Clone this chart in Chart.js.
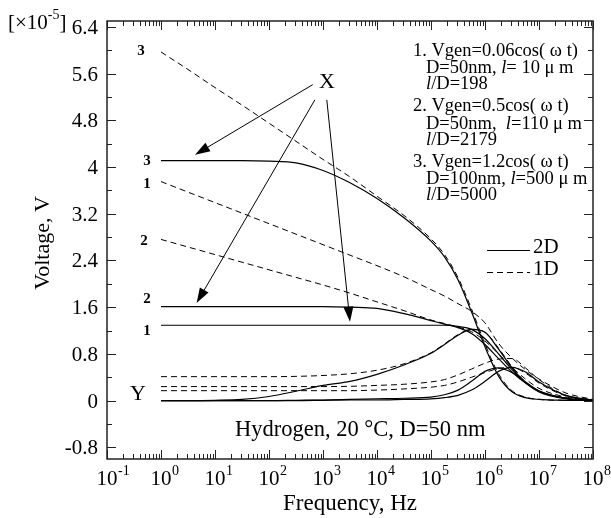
<!DOCTYPE html>
<html>
<head>
<meta charset="utf-8">
<script src="https://cdn.jsdelivr.net/npm/chart.js@4/dist/chart.umd.min.js"></script>
<style>
  html, body { margin: 0; padding: 0; background: #fff; }
  #wrap { width: 611px; height: 518px; position: relative; }
</style>
</head>
<body>
<div id="wrap"><canvas id="c" width="611" height="518"></canvas></div>
<script>
// Frequency grid (Hz) shared by every curve
const freqHz = [1, 3.16, 10, 31.6, 100, 316, 1e3, 3.16e3, 1e4, 3.16e4, 1e5, 1.78e5, 3.16e5, 5.62e5,
                1e6, 1.78e6, 3.16e6, 5.62e6, 1e7, 3.16e7, 1e8];

// 2D model (solid lines), voltage in units of 1e-5 V
const solid3 = [4.11, 4.11, 4.11, 4.11, 4.10, 4.07, 3.94, 3.73, 3.46, 3.13, 2.73, 2.46, 2.07, 1.52, 0.92, 0.42, 0.15, 0.05, 0.02, 0.005, 0];
const solid2 = [1.61, 1.61, 1.61, 1.61, 1.61, 1.61, 1.61, 1.60, 1.58, 1.49, 1.37, 1.31, 1.25, 1.15, 0.96, 0.72, 0.49, 0.30, 0.16, 0.04, 0.005];
const solid1 = [1.29, 1.29, 1.29, 1.29, 1.29, 1.29, 1.29, 1.29, 1.29, 1.29, 1.29, 1.29, 1.27, 1.22, 1.06, 0.80, 0.53, 0.31, 0.16, 0.04, 0.005];
const solidYa = [0, 0, 0.005, 0.02, 0.07, 0.16, 0.26, 0.33, 0.45, 0.61, 0.81, 0.96, 1.12, 1.22, 1.17, 0.88, 0.56, 0.31, 0.15, 0.03, 0];
const solidYb = [0, 0, 0, 0, 0, 0.005, 0.01, 0.02, 0.03, 0.04, 0.06, 0.10, 0.18, 0.33, 0.50, 0.56, 0.48, 0.32, 0.17, 0.04, 0];
const solidYc = [0, 0, 0, 0, 0, 0, 0.005, 0.01, 0.01, 0.02, 0.03, 0.05, 0.09, 0.18, 0.33, 0.50, 0.57, 0.49, 0.32, 0.09, 0.01];

// 1D model (dashed lines)
const dashed3 = [5.97, 5.67, 5.36, 5.06, 4.75, 4.44, 4.13, 3.83, 3.50, 3.17, 2.77, 2.50, 2.11, 1.57, 0.97, 0.46, 0.17, 0.06, 0.02, 0.005, 0];
const dashed1 = [3.75, 3.57, 3.39, 3.21, 3.03, 2.85, 2.67, 2.49, 2.31, 2.12, 1.90, 1.79, 1.66, 1.53, 1.33, 0.98, 0.73, 0.53, 0.37, 0.13, 0.02];
const dashed2 = [2.76, 2.63, 2.50, 2.37, 2.24, 2.11, 1.98, 1.84, 1.69, 1.54, 1.38, 1.32, 1.26, 1.18, 1.02, 0.80, 0.57, 0.37, 0.21, 0.06, 0.01];
const dashedYa = [0.41, 0.41, 0.41, 0.41, 0.41, 0.415, 0.43, 0.46, 0.52, 0.63, 0.82, 0.97, 1.13, 1.22, 1.17, 0.90, 0.58, 0.32, 0.16, 0.04, 0];
const dashedYb = [0.24, 0.24, 0.24, 0.24, 0.24, 0.24, 0.24, 0.245, 0.26, 0.28, 0.32, 0.36, 0.44, 0.54, 0.64, 0.71, 0.72, 0.56, 0.36, 0.09, 0.01];
const dashedYc = [0.17, 0.17, 0.17, 0.17, 0.17, 0.17, 0.17, 0.17, 0.18, 0.20, 0.23, 0.26, 0.32, 0.40, 0.48, 0.55, 0.57, 0.47, 0.30, 0.08, 0.01];

// Axis ticks
const xTickExponents = [-1, 0, 1, 2, 3, 4, 5, 6, 7, 8];
const yMajorTicks = [-0.8, 0, 0.8, 1.6, 2.4, 3.2, 4, 4.8, 5.6, 6.4];
const yMinorTicks = [-0.4, 0.4, 1.2, 2.0, 2.8, 3.6, 4.4, 5.2, 6.0];
const yTickLabels = ['-0.8', '0', '0.8', '1.6', '2.4', '3.2', '4', '4.8', '5.6', '6.4'];

// Arrows from the "X" marker: [from Hz, from V, to Hz, to V]
const arrowsX = [
  [646, 5.41, 4.27, 4.21],
  [708, 5.15, 4.57, 1.67],
  [1175, 5.15, 3162, 1.35]
];

// Case numbers written next to the curves at 1 Hz
const caseLabels = [
  { text: '3', v: 6.00, dx: -20 },
  { text: '3', v: 4.12, dx: -14 },
  { text: '1', v: 3.72, dx: -14 },
  { text: '2', v: 2.75, dx: -17 },
  { text: '2', v: 1.75, dx: -14 },
  { text: '1', v: 1.21, dx: -14 }
];

const SERIF = '"Liberation Serif", "DejaVu Serif", serif';

function series(vals) {
  return freqHz.map((f, i) => ({ x: f, y: vals[i] }));
}
function solidSet(vals) {
  return { data: series(vals), borderColor: '#000', borderWidth: 1.2, borderDash: [],
           pointRadius: 0, fill: false, cubicInterpolationMode: 'monotone' };
}
function dashedSet(vals) {
  return { data: series(vals), borderColor: '#000', borderWidth: 1, borderDash: [6, 4],
           pointRadius: 0, fill: false, cubicInterpolationMode: 'monotone' };
}

function drawArrow(ctx, x1, y1, x2, y2) {
  const ang = Math.atan2(y2 - y1, x2 - x1);
  const len = 15, half = 5;
  const bx = x2 - len * Math.cos(ang), by = y2 - len * Math.sin(ang);
  ctx.beginPath();
  ctx.moveTo(x1, y1);
  ctx.lineTo(bx, by);
  ctx.stroke();
  ctx.beginPath();
  ctx.moveTo(x2, y2);
  ctx.lineTo(bx + half * Math.sin(ang), by - half * Math.cos(ang));
  ctx.lineTo(bx - half * Math.sin(ang), by + half * Math.cos(ang));
  ctx.closePath();
  ctx.fill();
}

function drawRuns(ctx, x, y, runs) {
  let cx = x;
  runs.forEach(r => {
    ctx.font = (r.i ? 'italic ' : '') + '18.5px ' + SERIF;
    ctx.fillText(r.t, cx, y);
    cx += ctx.measureText(r.t).width;
  });
}

const framePlugin = {
  id: 'frame',
  afterDraw(chart) {
    const ctx = chart.ctx;
    const xs = chart.scales.x, ys = chart.scales.y;
    const a = chart.chartArea;
    ctx.save();
    ctx.strokeStyle = '#222';
    ctx.fillStyle = '#000';

    // plot frame
    ctx.lineWidth = 1.5;
    ctx.strokeRect(a.left, a.top, a.right - a.left, a.bottom - a.top);

    // x ticks (inward, top and bottom)
    ctx.lineWidth = 1;
    ctx.beginPath();
    xTickExponents.forEach(e => {
      const base = Math.pow(10, e);
      const px = Math.round(xs.getPixelForValue(base)) + 0.5;
      ctx.moveTo(px, a.bottom); ctx.lineTo(px, a.bottom - 9);
      ctx.moveTo(px, a.top); ctx.lineTo(px, a.top + 9);
      if (e < 8) {
        for (let m = 2; m <= 9; m++) {
          const mx = Math.round(xs.getPixelForValue(base * m)) + 0.5;
          ctx.moveTo(mx, a.bottom); ctx.lineTo(mx, a.bottom - 5);
          ctx.moveTo(mx, a.top); ctx.lineTo(mx, a.top + 5);
        }
      }
    });
    // y ticks (inward, left and right)
    yMajorTicks.forEach(v => {
      const py = Math.round(ys.getPixelForValue(v)) + 0.5;
      ctx.moveTo(a.left, py); ctx.lineTo(a.left + 9, py);
      ctx.moveTo(a.right, py); ctx.lineTo(a.right - 9, py);
    });
    yMinorTicks.forEach(v => {
      const py = Math.round(ys.getPixelForValue(v)) + 0.5;
      ctx.moveTo(a.left, py); ctx.lineTo(a.left + 5, py);
      ctx.moveTo(a.right, py); ctx.lineTo(a.right - 5, py);
    });
    ctx.stroke();

    // y tick labels
    ctx.font = '21px ' + SERIF;
    ctx.textAlign = 'right';
    ctx.textBaseline = 'alphabetic';
    yMajorTicks.forEach((v, i) => {
      ctx.fillText(yTickLabels[i], a.left - 9, ys.getPixelForValue(v) + 7);
    });

    // scale factor label
    ctx.textAlign = 'left';
    ctx.font = '21px ' + SERIF;
    let sx = 8;
    ctx.fillText('[\u00d710', sx, 29);
    sx += ctx.measureText('[\u00d710').width;
    ctx.font = '14px ' + SERIF;
    ctx.fillText('-5', sx, 19);
    sx += ctx.measureText('-5').width;
    ctx.font = '21px ' + SERIF;
    ctx.fillText(']', sx, 29);

    // x tick labels: 10 with superscript exponent
    xTickExponents.forEach(e => {
      const px = xs.getPixelForValue(Math.pow(10, e));
      ctx.font = '21px ' + SERIF;
      ctx.textAlign = 'center';
      ctx.fillText('10', px, 485);
      const w = ctx.measureText('10').width;
      ctx.font = '14px ' + SERIF;
      ctx.textAlign = 'left';
      ctx.fillText(String(e), px + w / 2 + 0.5, 475);
    });

    // axis titles
    ctx.font = '23px ' + SERIF;
    ctx.textAlign = 'center';
    ctx.fillText('Frequency, Hz', 350, 510);
    ctx.save();
    ctx.translate(49, 243);
    ctx.rotate(-Math.PI / 2);
    ctx.font = '22px ' + SERIF;
    ctx.fillText('Voltage, V', 0, 0);
    ctx.restore();

    // gas / geometry caption
    ctx.font = '22.5px ' + SERIF;
    ctx.textAlign = 'left';
    ctx.fillText('Hydrogen, 20 \u00b0C, D=50 nm', 235, 436);

    // X and Y markers
    ctx.font = '22px ' + SERIF;
    ctx.textAlign = 'center';
    ctx.fillText('X', 327, 88);
    ctx.fillText('Y', 138, 400);

    // arrows
    ctx.strokeStyle = '#000';
    ctx.fillStyle = '#000';
    ctx.lineWidth = 1;
    arrowsX.forEach(([f1, v1, f2, v2]) => {
      drawArrow(ctx, xs.getPixelForValue(f1), ys.getPixelForValue(v1),
                     xs.getPixelForValue(f2), ys.getPixelForValue(v2));
    });

    // case numbers
    ctx.font = 'bold 15px ' + SERIF;
    ctx.textAlign = 'center';
    const x0 = xs.getPixelForValue(freqHz[0]);
    caseLabels.forEach(l => {
      ctx.fillText(l.text, x0 + l.dx, ys.getPixelForValue(l.v) + 5);
    });

    // parameter block
    ctx.textAlign = 'left';
    const L = 413, I = 426;
    drawRuns(ctx, L, 56, [{ t: '1. Vgen=0.06cos( \u03c9 t)' }]);
    drawRuns(ctx, I, 72.5, [{ t: 'D=50nm, ' }, { t: 'l', i: true }, { t: '= 10 \u03bc m' }]);
    drawRuns(ctx, I, 89, [{ t: 'l', i: true }, { t: '/D=198' }]);
    drawRuns(ctx, L, 111, [{ t: '2. Vgen=0.5cos( \u03c9 t)' }]);
    drawRuns(ctx, I, 128.5, [{ t: 'D=50nm,  ' }, { t: 'l', i: true }, { t: '=110 \u03bc m' }]);
    drawRuns(ctx, I, 144.5, [{ t: 'l', i: true }, { t: '/D=2179' }]);
    drawRuns(ctx, L, 167, [{ t: '3. Vgen=1.2cos( \u03c9 t)' }]);
    drawRuns(ctx, I, 184, [{ t: 'D=100nm, ' }, { t: 'l', i: true }, { t: '=500 \u03bc m' }]);
    drawRuns(ctx, I, 199.5, [{ t: 'l', i: true }, { t: '/D=5000' }]);

    // legend
    ctx.lineWidth = 1.2;
    ctx.setLineDash([]);
    ctx.beginPath(); ctx.moveTo(487, 250.5); ctx.lineTo(530, 250.5); ctx.stroke();
    ctx.lineWidth = 1;
    ctx.setLineDash([6, 4]);
    ctx.beginPath(); ctx.moveTo(487, 272.5); ctx.lineTo(530, 272.5); ctx.stroke();
    ctx.setLineDash([]);
    ctx.font = '21px ' + SERIF;
    ctx.fillText('2D', 533, 253);
    ctx.fillText('1D', 533, 275);

    ctx.restore();
  }
};

new Chart(document.getElementById('c'), {
  type: 'line',
  data: {
    datasets: [
      solidSet(solid3), solidSet(solid2), solidSet(solid1),
      solidSet(solidYa), solidSet(solidYb), solidSet(solidYc),
      dashedSet(dashed3), dashedSet(dashed1), dashedSet(dashed2),
      dashedSet(dashedYa), dashedSet(dashedYb), dashedSet(dashedYc)
    ]
  },
  options: {
    responsive: false,
    animation: false,
    devicePixelRatio: 1,
    layout: { padding: { left: 107, top: 21, right: 18, bottom: 59 } },
    plugins: { legend: { display: false }, tooltip: { enabled: false } },
    scales: {
      x: { type: 'logarithmic', min: 0.1, max: 1e8, display: false },
      y: { type: 'linear', min: -1, max: 6.5, display: false }
    }
  },
  plugins: [framePlugin]
});
</script>
</body>
</html>
